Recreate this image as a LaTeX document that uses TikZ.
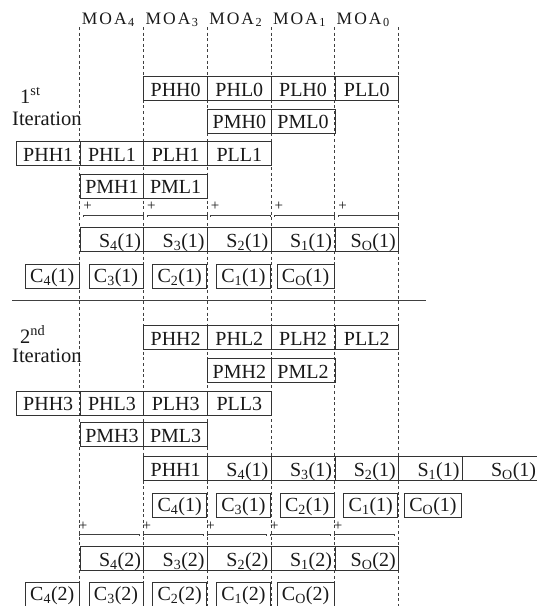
\documentclass[tikz,border=0pt]{standalone}
\usepackage{fontspec}
\setmainfont{Liberation Serif}
\usetikzlibrary{calc}

% font sizes used in the figure
\newcommand\cellfont{\fontsize{20}{24}\selectfont}
\newcommand\headfont{\fontsize{17.5}{21}\selectfont}
\newcommand\plusfont{\fontsize{15}{18}\selectfont}
\newcommand\lo[1]{\textsubscript{#1}}
% spaced column heading MOA_k
\newcommand\moa[1]{M\kern2pt O\kern2pt A\kern1.5pt\lo{#1}}

\tikzset{
  guide/.style={draw=black!75, line width=0.6pt, dash pattern=on 3pt off 2.6pt},
  cellbox/.style={draw=black!80, line width=0.8pt, inner sep=0pt,
    minimum height=24pt, minimum width=63.7pt, anchor=north west,
    text height=19pt, text depth=3pt, font=\cellfont, text=black!90},
  sumcell/.style={cellbox, text width=58pt, align=right, inner xsep=2.85pt},
  carry/.style={cellbox, minimum width=54pt, anchor=north east,
    text height=17pt, text depth=5pt},
  carrylast/.style={carry, minimum width=57pt},
  plus/.style={font=\plusfont, inner sep=0pt, text=black!90},
  sumline/.style={draw=black!75, line width=0.8pt},
  head/.style={font=\headfont, anchor=base west, inner sep=0pt, text=black!90},
  itlabel/.style={font=\fontsize{20.5}{24}\selectfont, anchor=base west, inner sep=0pt, text=black!90},
}

\begin{document}
\begin{tikzpicture}[x=1pt, y=-1pt]
\useasboundingbox (0,0) rectangle (537,606);

% dashed column guides; column k starts at 79.7 + 63.7 k
\foreach \k in {0,...,5}
  \draw[guide] ({79.7+63.7*\k},27) -- ({79.7+63.7*\k},606);

% column headings
\foreach \d [count=\k from 0] in {4,3,2,1,0}
  \node[head] (moa\d) at ({79.7+63.7*\k+2},24) {\moa{\d}};

% ---------------- first iteration ----------------
\node[itlabel] (first) at (20,103) {1\textsuperscript{st}};
\node[itlabel] (iterA) at (12,125) {Iteration};

\foreach \t [count=\i] in {PHH0,PHL0,PLH0,PLL0}
  \node[cellbox] (a\i) at ({79.7+63.7*\i},76) {\t};
\foreach \t [count=\i from 2] in {PMH0,PML0}
  \node[cellbox] (b\i) at ({79.7+63.7*\i},108.5) {\t};
\foreach \t [count=\i from -1] in {PHH1,PHL1,PLH1,PLL1}
  \node[cellbox] (c\i) at ({79.7+63.7*\i},141) {\t};
\foreach \t [count=\i from 0] in {PMH1,PML1}
  \node[cellbox] (d\i) at ({79.7+63.7*\i},173.5) {\t};

\foreach \k in {0,...,4} {
  \node[plus] (pa\k) at ({79.7+63.7*\k+8},206.5) {+};
  \coordinate (la\k) at ({79.7+63.7*\k+3.6},215);
  \coordinate (ra\k) at ({79.7+63.7*(\k+1)},215);
  \draw[sumline] ($(la\k)+(0,1.5)$) -- (la\k) -- (ra\k) -- ($(ra\k)+(0,1.5)$);
}

\foreach \t [count=\i from 0] in {S\lo{4}(1),S\lo{3}(1),S\lo{2}(1),S\lo{1}(1),S\lo{O}(1)}
  \node[sumcell] (e\i) at ({79.7+63.7*\i},227) {\t};

\foreach \t [count=\i from 0] in {C\lo{4}(1),C\lo{3}(1),C\lo{2}(1),C\lo{1}(1)}
  \node[carry] (f\i) at ({79.7+63.7*\i},264) {\t};
\node[carrylast] (f4) at ({79.7+63.7*4},264) {C\lo{O}(1)};

% separator between the iterations
\draw[line width=0.8pt, black!75] (12,300.5) -- (426,300.5);

% ---------------- second iteration ----------------
\node[itlabel] (second) at (20,343) {2\textsuperscript{nd}};
\node[itlabel] (iterB) at (12,362) {Iteration};

\foreach \t [count=\i] in {PHH2,PHL2,PLH2,PLL2}
  \node[cellbox] (g\i) at ({79.7+63.7*\i},325) {\t};
\foreach \t [count=\i from 2] in {PMH2,PML2}
  \node[cellbox] (h\i) at ({79.7+63.7*\i},358) {\t};
\foreach \t [count=\i from -1] in {PHH3,PHL3,PLH3,PLL3}
  \node[cellbox] (m\i) at ({79.7+63.7*\i},390.5) {\t};
\foreach \t [count=\i from 0] in {PMH3,PML3}
  \node[cellbox] (n\i) at ({79.7+63.7*\i},422) {\t};

\node[cellbox] (q1) at ({79.7+63.7},456) {PHH1};
\foreach \t [count=\i from 2] in {S\lo{4}(1),S\lo{3}(1),S\lo{2}(1),S\lo{1}(1)}
  \node[sumcell] (q\i) at ({79.7+63.7*\i},456) {\t};
\node[sumcell, text width=71pt] (q6) at ({79.7+63.7*6},456) {S\lo{O}(1)};

\foreach \t [count=\i from 1] in {C\lo{4}(1),C\lo{3}(1),C\lo{2}(1),C\lo{1}(1)}
  \node[carry] (r\i) at ({79.7+63.7*(\i+1)},493) {\t};
\node[carrylast] (r5) at ({79.7+63.7*6},493) {C\lo{O}(1)};

\foreach \k in {0,...,4} {
  \node[plus] (pb\k) at ({79.7+63.7*\k+3.5},526.5) {+};
  \coordinate (lb\k) at ({79.7+63.7*\k},534);
  \coordinate (rb\k) at ({79.7+63.7*(\k+1)-4},534);
  \draw[sumline] ($(lb\k)+(0,1.5)$) -- (lb\k) -- (rb\k) -- ($(rb\k)+(0,1.5)$);
}

\foreach \t [count=\i from 0] in {S\lo{4}(2),S\lo{3}(2),S\lo{2}(2),S\lo{1}(2),S\lo{O}(2)}
  \node[sumcell] (s\i) at ({79.7+63.7*\i},546) {\t};

\foreach \t [count=\i from 0] in {C\lo{4}(2),C\lo{3}(2),C\lo{2}(2),C\lo{1}(2)}
  \node[carry] (t\i) at ({79.7+63.7*\i},582) {\t};
\node[carrylast] (t4) at ({79.7+63.7*4},582) {C\lo{O}(2)};

\end{tikzpicture}
\end{document}
